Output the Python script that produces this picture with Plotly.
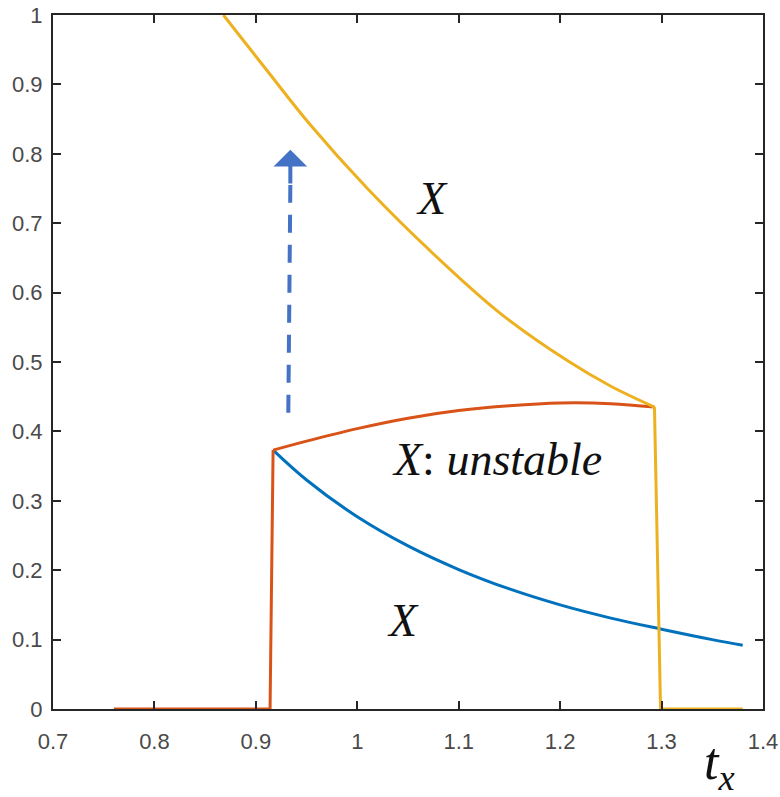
import plotly.graph_objects as go

# red branch (unstable), step up at ~0.915
red_step_x = [0.760, 0.914, 0.917]
red_step_y = [0.000, 0.000, 0.373]
red_x = [0.917, 0.950, 1.000, 1.050, 1.100, 1.150, 1.200, 1.250, 1.293]
red_y = [0.373, 0.386, 0.404, 0.419, 0.430, 0.437, 0.441, 0.440, 0.435]

# yellow branch, drops to zero at ~1.3
yel_x = [0.868, 0.911, 0.953, 1.010, 1.072, 1.141, 1.207, 1.250, 1.293]
yel_y = [1.000, 0.920, 0.843, 0.750, 0.660, 0.570, 0.502, 0.465, 0.435]
yel_step_x = [1.293, 1.299, 1.380]
yel_step_y = [0.435, 0.000, 0.000]

# blue branch
blu_x = [0.917, 0.950, 1.000, 1.050, 1.100, 1.150, 1.200, 1.250, 1.300, 1.350, 1.380]
blu_y = [0.373, 0.330, 0.277, 0.235, 0.201, 0.173, 0.150, 0.131, 0.115, 0.100, 0.092]

# dashed arrow
arrow_x = [0.932, 0.934]
arrow_y = [0.427, 0.755]
arrow_tip = (0.934, 0.806)

x_ticks = [0.7, 0.8, 0.9, 1.0, 1.1, 1.2, 1.3, 1.4]
x_labels = ["0.7", "0.8", "0.9", "1", "1.1", "1.2", "1.3", "1.4"]
y_ticks = [0, 0.1, 0.2, 0.3, 0.4, 0.5, 0.6, 0.7, 0.8, 0.9, 1.0]
y_labels = ["0", "0.1", "0.2", "0.3", "0.4", "0.5", "0.6", "0.7", "0.8", "0.9", "1"]

RED = "#D95319"
YEL = "#EDB120"
BLU = "#0072BD"
ARR = "#4472C4"

fig = go.Figure()
fig.add_trace(go.Scatter(x=blu_x, y=blu_y, mode="lines",
                         line=dict(color=BLU, width=3, shape="spline")))
fig.add_trace(go.Scatter(x=red_step_x, y=red_step_y, mode="lines",
                         line=dict(color=RED, width=3)))
fig.add_trace(go.Scatter(x=red_x, y=red_y, mode="lines",
                         line=dict(color=RED, width=3, shape="spline")))
fig.add_trace(go.Scatter(x=yel_x, y=yel_y, mode="lines",
                         line=dict(color=YEL, width=3, shape="spline")))
fig.add_trace(go.Scatter(x=yel_step_x, y=yel_step_y, mode="lines",
                         line=dict(color=YEL, width=3)))
fig.add_trace(go.Scatter(x=arrow_x, y=arrow_y, mode="lines",
                         line=dict(color=ARR, width=4, dash="18px,12px")))
fig.add_annotation(x=arrow_tip[0], y=arrow_tip[1], ax=arrow_x[1], ay=arrow_y[1],
                   xref="x", yref="y", axref="x", ayref="y", text="",
                   showarrow=True, arrowhead=1, arrowsize=1.4, arrowwidth=4,
                   arrowcolor=ARR)

txt_font = dict(family="Liberation Serif", size=46, color="#111111")
fig.add_annotation(x=1.074, y=0.736, text="<i>X</i>", showarrow=False, font=txt_font)
fig.add_annotation(x=1.138, y=0.359, text="<i>X</i>: <i>unstable</i>", showarrow=False, font=txt_font)
fig.add_annotation(x=1.045, y=0.128, text="<i>X</i>", showarrow=False, font=txt_font)
fig.add_annotation(x=0.963, y=-0.131, xref="paper", yref="paper",
                   text="<i>t</i><sub><i>x</i></sub>", showarrow=False,
                   font=dict(family="Liberation Serif", size=52, color="#111111"))

axis_common = dict(showgrid=False, zeroline=False, showline=True, mirror="ticks",
                   linecolor="#262626", linewidth=2, ticks="inside", ticklen=8,
                   tickwidth=2, tickcolor="#262626", automargin=False,
                   ticklabeloverflow="allow",
                   tickfont=dict(family="Liberation Sans", size=22, color="#4a4a4a"))

fig.update_layout(
    width=780, height=797,
    margin=dict(l=53, r=17, t=15, b=88),
    plot_bgcolor="white", paper_bgcolor="white",
    showlegend=False,
    xaxis=dict(range=[0.7, 1.4], tickvals=x_ticks, ticktext=x_labels,
               ticklabelstandoff=12, **axis_common),
    yaxis=dict(range=[0, 1], tickvals=y_ticks, ticktext=y_labels,
               ticklabelstandoff=4, **axis_common),
)

# drop the default page margin so the figure fills the window exactly
fig.write_html("out.html", config={"displayModeBar": False},
               post_script="document.body.style.margin='0';")
